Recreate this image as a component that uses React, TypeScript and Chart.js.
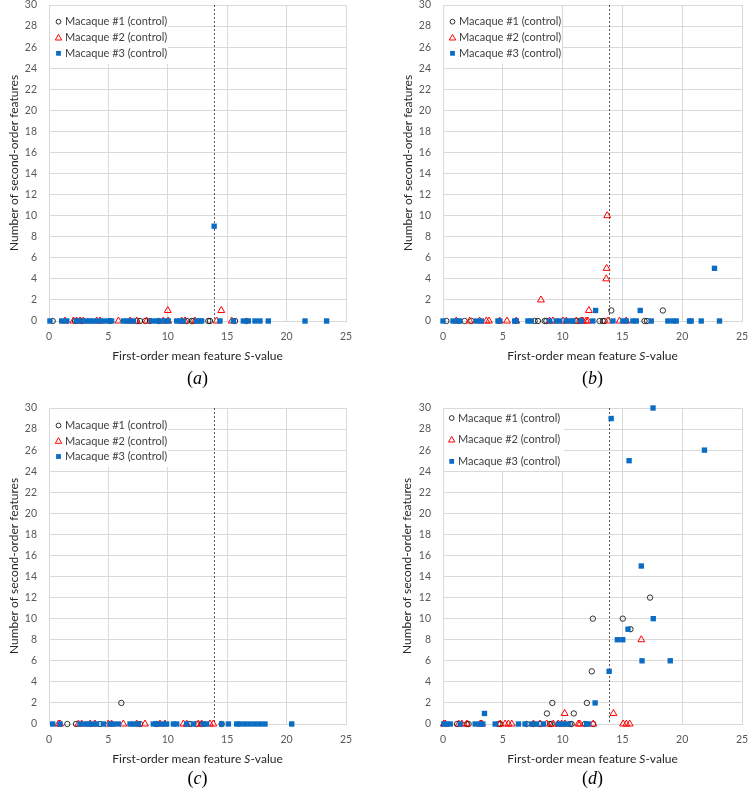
import React, { useEffect, useRef } from "react";
import { Chart, registerables } from "chart.js";

Chart.register(...registerables);

// ---------- shared labels / ticks ----------
const seriesNames = ["Macaque #1 (control)", "Macaque #2 (control)", "Macaque #3 (control)"];
const xTickValues = [0, 5, 10, 15, 20, 25];
const yTickValues = [0, 2, 4, 6, 8, 10, 12, 14, 16, 18, 20, 22, 24, 26, 28, 30];
const thresholdS = 13.9;
const xTitleParts = ["First-order mean feature ", "S", "-value"];
const yTitle = "Number of second-order features";
const captionLetters = ["a", "b", "c", "d"];

// ---------- panel (a) ----------
const aM1X = [0.31, 2.19, 2.75, 5.13, 7.38, 7.66, 8.1, 8.5, 9.2, 11.6, 12.0, 12.15, 13.41, 13.55, 15.66, 16.64];
const aM1Y = [0, 0, 0, 0, 0, 0, 0, 0, 0, 0, 0, 0, 0, 0, 0, 0];
const aM2X = [1.35, 2.05, 2.33, 2.61, 2.89, 4.01, 4.29, 5.84, 6.82, 7.38, 8.22, 9.62, 10.04, 10.0, 11.17, 11.45, 12.29, 14.11, 14.5, 15.38];
const aM2Y = [0, 0, 0, 0, 0, 0, 0, 0, 0, 0, 0, 0, 0, 1, 0, 0, 0, 0, 1, 0];
const aM3X = [0.08, 1.07, 1.5, 2.3, 2.7, 3.17, 3.45, 3.73, 4.15, 4.57, 5.0, 5.27, 6.26, 6.54, 6.82, 7.1, 8.64, 9.06, 9.34, 9.76, 10.04, 10.75, 11.03, 11.3, 12.43, 12.71, 12.85, 13.9, 14.39, 15.52, 16.36, 16.78, 17.34, 17.76, 18.46, 21.55, 23.37];
const aM3Y = [0, 0, 0, 0, 0, 0, 0, 0, 0, 0, 0, 0, 0, 0, 0, 0, 0, 0, 0, 0, 0, 0, 0, 0, 0, 0, 0, 9, 0, 0, 0, 0, 0, 0, 0, 0, 0];

// ---------- panel (b) ----------
const bM1X = [0.28, 1.81, 2.37, 7.66, 7.94, 8.5, 8.64, 11.14, 11.42, 13.09, 13.37, 13.51, 14.07, 16.85, 17.05, 18.38];
const bM1Y = [0, 0, 0, 0, 0, 0, 0, 0, 0, 0, 0, 0, 1, 0, 0, 1];
const bM2X = [1.11, 2.23, 3.06, 3.62, 3.84, 4.74, 5.35, 6.13, 8.19, 8.91, 9.19, 10.03, 10.31, 11.14, 11.56, 11.7, 11.98, 12.12, 12.2, 13.65, 13.68, 13.73, 13.79, 14.76, 15.32];
const bM2Y = [0, 0, 0, 0, 0, 0, 0, 0, 2, 0, 0, 0, 0, 0, 0, 0, 0, 0, 1, 4, 5, 10, 0, 0, 0];
const bM3X = [0, 0.84, 1.25, 1.39, 2.79, 3.2, 4.6, 4.74, 5.99, 6.13, 7.1, 7.38, 8.91, 9.47, 9.75, 10.31, 10.72, 10.86, 11.56, 12.53, 12.76, 14.21, 15.04, 15.32, 15.88, 16.16, 16.49, 17.41, 18.8, 19.22, 19.5, 20.61, 20.75, 21.59, 22.7, 23.12];
const bM3Y = [0, 0, 0, 0, 0, 0, 0, 0, 0, 0, 0, 0, 0, 0, 0, 0, 0, 0, 0, 0, 1, 0, 0, 0, 0, 0, 1, 0, 0, 0, 0, 0, 0, 0, 5, 0];

// ---------- panel (c) ----------
const cM1X = [1.54, 2.27, 4.29, 6.09, 7.66, 9.06, 11.87, 12.43, 12.85, 14.53];
const cM1Y = [0, 0, 0, 2, 0, 0, 0, 0, 0, 0];
const cM2X = [0.79, 0.93, 2.47, 2.75, 3.45, 3.87, 4.99, 5.27, 6.26, 7.38, 8.08, 9.34, 9.76, 11.31, 11.59, 12.57, 12.85, 13.55, 13.83];
const cM2Y = [0, 0, 0, 0, 0, 0, 0, 0, 0, 0, 0, 0, 0, 0, 0, 0, 0, 0, 0];
const cM3X = [0.31, 0.93, 2.61, 3.03, 3.31, 3.59, 4.01, 4.57, 5.13, 5.41, 5.84, 6.82, 7.1, 7.52, 8.78, 9.06, 9.48, 9.9, 10.47, 10.75, 11.59, 12.15, 12.99, 13.27, 14.53, 15.1, 15.8, 16.08, 16.5, 16.92, 17.34, 17.76, 18.18, 20.43];
const cM3Y = [0, 0, 0, 0, 0, 0, 0, 0, 0, 0, 0, 0, 0, 0, 0, 0, 0, 0, 0, 0, 0, 0, 0, 0, 0, 0, 0, 0, 0, 0, 0, 0, 0, 0];

// ---------- panel (d) ----------
const dM1X = [1.17, 2.0, 2.14, 4.64, 4.78, 7.0, 7.56, 8.11, 8.69, 8.94, 9.08, 9.14, 10.61, 10.75, 10.94, 11.86, 12.03, 12.44, 12.53, 12.56, 15.03, 15.67, 17.31];
const dM1Y = [0, 0, 0, 0, 0, 0, 0, 0, 1, 0, 0, 2, 0, 0, 1, 0, 2, 5, 10, 0, 10, 9, 12];
const dM2X = [0.06, 0.19, 1.31, 1.58, 2.0, 3.11, 3.25, 4.78, 5.19, 5.47, 5.75, 7.56, 8.11, 8.67, 9.22, 9.64, 9.92, 10.17, 10.19, 11.31, 11.44, 12.56, 14.25, 15.06, 15.33, 15.61, 16.58];
const dM2Y = [0, 0, 0, 0, 0, 0, 0, 0, 0, 0, 0, 0, 0, 0, 0, 0, 0, 1, 0, 0, 0, 0, 1, 0, 0, 0, 8];
const dM3X = [0.06, 0.33, 0.61, 1.44, 2.69, 3.11, 3.33, 3.47, 4.36, 6.31, 6.86, 7.42, 7.83, 8.39, 9.64, 10.06, 10.47, 12.0, 12.14, 12.72, 13.89, 14.06, 14.58, 15.03, 15.47, 15.56, 16.58, 16.64, 17.56, 17.58, 19.0, 21.86];
const dM3Y = [0, 0, 0, 0, 0, 0, 0, 1, 0, 0, 0, 0, 0, 0, 0, 0, 0, 0, 0, 2, 5, 29, 8, 8, 9, 25, 15, 6, 30, 10, 6, 26];

// ---------- styling ----------
const SANS = "Lato, 'Open Sans', 'Liberation Sans', sans-serif";
const SERIF = "'Liberation Serif', 'DejaVu Serif', serif";
const GRID = "#d9d9d9";
const TICK = "#595959";
const TITLE = "#262626";
const RED = "#ff0000";
const BLUE = "#0a6cc2";

type Pt = { x: number; y: number };
const zip = (xs: number[], ys: number[]): Pt[] => xs.map((x, i) => ({ x, y: ys[i] }));

interface PanelCfg {
  left: number;
  top: number;
  width: number;
  height: number;
  area: { l: number; t: number; r: number; b: number };
  series: Pt[][];
  legend: { mx: number; tx: number; ys: number[]; boxW: number; boxH: number };
  yTitleX: number;
  captionY: number;
  caption: string;
}

const panels: PanelCfg[] = [
  {
    left: 0, top: 0, width: 375, height: 395,
    area: { l: 49, t: 5, r: 346, b: 321 },
    series: [zip(aM1X, aM1Y), zip(aM2X, aM2Y), zip(aM3X, aM3Y)],
    legend: { mx: 9.5, tx: 16, ys: [16.7, 32.7, 48.3], boxW: 118, boxH: 58 },
    yTitleX: 14, captionY: 379, caption: captionLetters[0],
  },
  {
    left: 375, top: 0, width: 375, height: 395,
    area: { l: 443, t: 5, r: 742, b: 321 },
    series: [zip(bM1X, bM1Y), zip(bM2X, bM2Y), zip(bM3X, bM3Y)],
    legend: { mx: 9.5, tx: 16, ys: [16.7, 32.7, 48.3], boxW: 118, boxH: 58 },
    yTitleX: 33, captionY: 379, caption: captionLetters[1],
  },
  {
    left: 0, top: 395, width: 375, height: 398,
    area: { l: 49, t: 408, r: 346, b: 724 },
    series: [zip(cM1X, cM1Y), zip(cM2X, cM2Y), zip(cM3X, cM3Y)],
    legend: { mx: 9.5, tx: 16, ys: [17.5, 33, 48.5], boxW: 118, boxH: 58 },
    yTitleX: 14, captionY: 384, caption: captionLetters[2],
  },
  {
    left: 375, top: 395, width: 375, height: 398,
    area: { l: 443, t: 408, r: 742, b: 724 },
    series: [zip(dM1X, dM1Y), zip(dM2X, dM2Y), zip(dM3X, dM3Y)],
    legend: { mx: 8.7, tx: 15, ys: [10, 31.7, 53.4], boxW: 120, boxH: 62 },
    yTitleX: 32, captionY: 384, caption: captionLetters[3],
  },
];

function drawMarker(ctx: CanvasRenderingContext2D, kind: number, x: number, y: number) {
  ctx.save();
  ctx.setLineDash([]);
  if (kind === 0) {
    ctx.strokeStyle = "#000";
    ctx.lineWidth = 0.8;
    ctx.beginPath();
    ctx.arc(x, y, 2.4, 0, Math.PI * 2);
    ctx.stroke();
  } else if (kind === 1) {
    ctx.strokeStyle = RED;
    ctx.lineWidth = 1;
    ctx.beginPath();
    ctx.moveTo(x, y - 3.3);
    ctx.lineTo(x + 3.2, y + 2.3);
    ctx.lineTo(x - 3.2, y + 2.3);
    ctx.closePath();
    ctx.stroke();
  } else {
    ctx.fillStyle = BLUE;
    ctx.fillRect(x - 2.4, y - 2.4, 4.8, 4.8);
  }
  ctx.restore();
}

function makeOverlay(cfg: PanelCfg) {
  return {
    id: "overlay",
    beforeDatasetsDraw(chart: any) {
      const { ctx, chartArea, scales } = chart;
      const x = Math.round(scales.x.getPixelForValue(thresholdS)) + 0.5;
      ctx.save();
      ctx.strokeStyle = "#595959";
      ctx.lineWidth = 1;
      ctx.setLineDash([2, 2]);
      ctx.beginPath();
      ctx.moveTo(x, chartArea.top);
      ctx.lineTo(x, chartArea.bottom);
      ctx.stroke();
      ctx.restore();
    },
    afterDraw(chart: any) {
      const { ctx, chartArea } = chart;
      const L = cfg.legend;
      ctx.save();
      // legend box
      ctx.fillStyle = "#ffffff";
      ctx.fillRect(chartArea.left + 1, chartArea.top + 1, L.boxW, L.boxH);
      ctx.font = `11px ${SANS}`;
      ctx.textBaseline = "middle";
      ctx.textAlign = "left";
      seriesNames.forEach((name, i) => {
        const y = chartArea.top + L.ys[i];
        drawMarker(ctx, i, chartArea.left + L.mx, y);
        ctx.fillStyle = "#404040";
        ctx.fillText(name, chartArea.left + L.tx, y);
      });

      // x-axis title with italic S
      const cx = (chartArea.left + chartArea.right) / 2;
      const ty = chartArea.bottom + 35;
      const fN = `12px ${SANS}`;
      const fI = `italic 12px ${SANS}`;
      ctx.font = fN;
      const w0 = ctx.measureText(xTitleParts[0]).width;
      const w2 = ctx.measureText(xTitleParts[2]).width;
      ctx.font = fI;
      const w1 = ctx.measureText(xTitleParts[1]).width;
      let sx = cx - (w0 + w1 + w2) / 2;
      ctx.fillStyle = TITLE;
      ctx.font = fN;
      ctx.fillText(xTitleParts[0], sx, ty);
      sx += w0;
      ctx.font = fI;
      ctx.fillText(xTitleParts[1], sx, ty);
      sx += w1;
      ctx.font = fN;
      ctx.fillText(xTitleParts[2], sx, ty);

      // y-axis title
      ctx.save();
      ctx.translate(cfg.yTitleX, (chartArea.top + chartArea.bottom) / 2);
      ctx.rotate(-Math.PI / 2);
      ctx.textAlign = "center";
      ctx.font = fN;
      ctx.fillText(yTitle, 0, 0);
      ctx.restore();

      // caption: upright parentheses, italic letter
      const fP = `18px ${SERIF}`;
      const fL = `italic 18px ${SERIF}`;
      ctx.fillStyle = "#000";
      ctx.textAlign = "left";
      ctx.font = fP;
      const pw = ctx.measureText("(").width;
      const qw = ctx.measureText(")").width;
      ctx.font = fL;
      const lw = ctx.measureText(cfg.caption).width;
      let px = cx - (pw + lw + qw) / 2;
      ctx.font = fP;
      ctx.fillText("(", px, cfg.captionY);
      px += pw;
      ctx.font = fL;
      ctx.fillText(cfg.caption, px, cfg.captionY);
      px += lw;
      ctx.font = fP;
      ctx.fillText(")", px, cfg.captionY);
      ctx.restore();
    },
  };
}

function zeroPad(s: any) {
  s.paddingLeft = 0;
  s.paddingRight = 0;
  s.paddingTop = 0;
  s.paddingBottom = 0;
}

function Panel({ cfg }: { cfg: PanelCfg }) {
  const ref = useRef<HTMLCanvasElement | null>(null);
  useEffect(() => {
    if (!ref.current) return;
    const yAxisW = cfg.area.l - cfg.left;
    const xAxisH = cfg.top + cfg.height - cfg.area.b;
    const padTop = cfg.area.t - cfg.top;
    const padRight = cfg.left + cfg.width - cfg.area.r;
    const common = { showLine: false, clip: false as any, pointHoverRadius: 0 };
    const chart = new Chart(ref.current, {
      type: "scatter",
      data: {
        datasets: [
          {
            ...common,
            label: seriesNames[0],
            data: cfg.series[0],
            pointStyle: "circle",
            pointRadius: 2.7,
            pointBorderWidth: 0.8,
            pointBorderColor: "#000",
            pointBackgroundColor: "rgba(0,0,0,0)",
            order: 2,
          },
          {
            ...common,
            label: seriesNames[1],
            data: cfg.series[1],
            pointStyle: "triangle",
            pointRadius: 4,
            pointBorderWidth: 1,
            pointBorderColor: RED,
            pointBackgroundColor: "rgba(0,0,0,0)",
            order: 1,
          },
          {
            ...common,
            label: seriesNames[2],
            data: cfg.series[2],
            pointStyle: "rect",
            pointRadius: 3.8,
            pointBorderWidth: 0,
            pointBorderColor: BLUE,
            pointBackgroundColor: BLUE,
            order: 0,
          },
        ],
      },
      options: {
        responsive: false,
        animation: false,
        devicePixelRatio: 1,
        layout: { padding: { top: padTop, right: padRight, left: 0, bottom: 0 } },
        plugins: { legend: { display: false }, tooltip: { enabled: false } },
        events: [],
        scales: {
          x: {
            type: "linear",
            min: 0,
            max: 25,
            afterBuildTicks: (s: any) => {
              s.ticks = xTickValues.map((v) => ({ value: v }));
            },
            afterFit: (s: any) => {
              s.height = xAxisH;
              zeroPad(s);
            },
            ticks: { padding: 9, color: TICK, font: { family: SANS, size: 10.5 }, maxRotation: 0 },
            grid: { color: GRID, drawTicks: false, lineWidth: 1 },
            border: { color: GRID },
          },
          y: {
            type: "linear",
            min: 0,
            max: 30,
            afterBuildTicks: (s: any) => {
              s.ticks = yTickValues.map((v) => ({ value: v }));
            },
            afterFit: (s: any) => {
              s.width = yAxisW;
              zeroPad(s);
            },
            ticks: { padding: 12, color: TICK, font: { family: SANS, size: 10.5 } },
            grid: { color: GRID, drawTicks: false, lineWidth: 1 },
            border: { color: GRID },
          },
        },
      } as any,
      plugins: [makeOverlay(cfg)],
    });
    return () => chart.destroy();
  }, [cfg]);
  return (
    <canvas
      ref={ref}
      width={cfg.width}
      height={cfg.height}
      style={{ position: "absolute", left: cfg.left, top: cfg.top, width: cfg.width, height: cfg.height }}
    />
  );
}

export default function App() {
  return (
    <div style={{ position: "absolute", left: 0, top: 0, width: 750, height: 793, background: "#fff", overflow: "hidden" }}>
      {panels.map((p, i) => (
        <Panel key={i} cfg={p} />
      ))}
    </div>
  );
}
